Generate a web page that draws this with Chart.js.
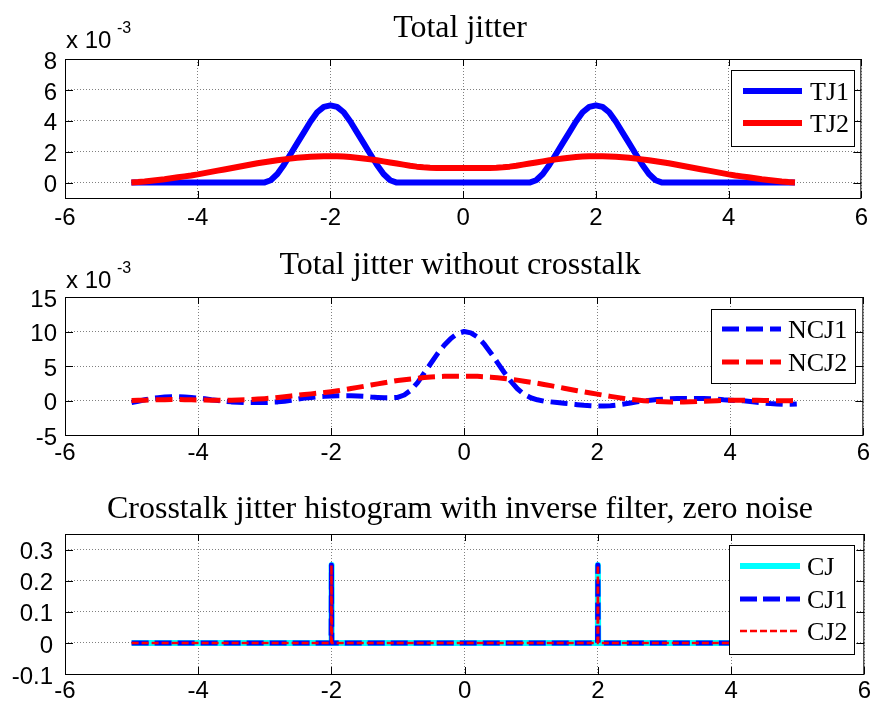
<!DOCTYPE html>
<html>
<head>
<meta charset="utf-8">
<title>Jitter histograms</title>
<style>
  body { margin: 0; background: #fff; }
  canvas { position: absolute; left: 0; }
</style>
</head>
<body>
<canvas id="c1" width="874" height="240" style="top:0px"></canvas>
<canvas id="c2" width="874" height="240" style="top:240px"></canvas>
<canvas id="c3" width="874" height="228" style="top:480px"></canvas>
<script src="https://cdn.jsdelivr.net/npm/chart.js"></script>
<script>
// time axis shared by the first two panels
var xs = [-5.0,-4.9,-4.8,-4.7,-4.6,-4.5,-4.4,-4.3,-4.2,-4.1,
          -4.0,-3.9,-3.8,-3.7,-3.6,-3.5,-3.4,-3.3,-3.2,-3.1,
          -3.0,-2.9,-2.8,-2.7,-2.6,-2.5,-2.4,-2.3,-2.2,-2.1,
          -2.0,-1.9,-1.8,-1.7,-1.6,-1.5,-1.4,-1.3,-1.2,-1.1,
          -1.0,-0.9,-0.8,-0.7,-0.6,-0.5,-0.4,-0.3,-0.2,-0.1,
          0.0,
          0.1,0.2,0.3,0.4,0.5,0.6,0.7,0.8,0.9,1.0,
          1.1,1.2,1.3,1.4,1.5,1.6,1.7,1.8,1.9,2.0,
          2.1,2.2,2.3,2.4,2.5,2.6,2.7,2.8,2.9,3.0,
          3.1,3.2,3.3,3.4,3.5,3.6,3.7,3.8,3.9,4.0,
          4.1,4.2,4.3,4.4,4.5,4.6,4.7,4.8,4.9,5.0];

// panel 1, values x 10^-3
var tj1 = [0,0,0,0,0,0,0,0,0,0,
           0,0,0,0,0,0,0,0,0,0,
           0,0.15,0.55,1.15,1.85,2.55,3.25,3.95,4.55,4.9,
           5.0,4.9,4.55,3.95,3.25,2.55,1.85,1.15,0.55,0.15,
           0,0,0,0,0,0,0,0,0,0,
           0,
           0,0,0,0,0,0,0,0,0,0,
           0.15,0.55,1.15,1.85,2.55,3.25,3.95,4.55,4.9,5.0,
           4.9,4.55,3.95,3.25,2.55,1.85,1.15,0.55,0.15,0,
           0,0,0,0,0,0,0,0,0,0,
           0,0,0,0,0,0,0,0,0,0];
var tj2 = [0,0.03,0.07,0.12,0.17,0.22,0.28,0.34,0.4,0.46,
           0.53,0.61,0.69,0.77,0.85,0.93,1.01,1.09,1.17,1.25,
           1.32,1.38,1.44,1.5,1.55,1.6,1.64,1.67,1.69,1.7,
           1.7,1.7,1.68,1.65,1.61,1.56,1.5,1.44,1.37,1.3,
           1.23,1.16,1.09,1.03,0.99,0.96,0.95,0.95,0.95,0.95,
           0.95,
           0.95,0.95,0.95,0.95,0.96,0.99,1.03,1.09,1.16,1.23,
           1.3,1.37,1.44,1.5,1.56,1.61,1.65,1.68,1.7,1.7,
           1.7,1.69,1.67,1.64,1.6,1.55,1.5,1.44,1.38,1.32,
           1.25,1.17,1.09,1.01,0.93,0.85,0.77,0.69,0.61,0.53,
           0.46,0.4,0.34,0.28,0.22,0.17,0.12,0.07,0.03,0];

// panel 2, values x 10^-3
var ncj1 = [-0.3,-0.1,0.1,0.3,0.4,0.5,0.55,0.55,0.5,0.45,
            0.35,0.25,0.1,0.0,-0.1,-0.2,-0.25,-0.3,-0.3,-0.3,
            -0.3,-0.25,-0.2,-0.1,0.05,0.2,0.35,0.45,0.55,0.6,
            0.65,0.7,0.7,0.7,0.65,0.6,0.5,0.45,0.4,0.4,
            0.45,0.8,1.5,2.6,4.0,5.4,6.8,8.0,9.0,9.7,
            10.0,
            9.8,9.2,8.2,6.9,5.5,4.1,2.8,1.7,0.9,0.4,
            0.1,-0.1,-0.2,-0.3,-0.4,-0.5,-0.6,-0.7,-0.75,-0.8,
            -0.8,-0.75,-0.65,-0.5,-0.35,-0.2,-0.05,0.05,0.15,0.2,
            0.25,0.3,0.3,0.3,0.3,0.3,0.25,0.2,0.1,0.05,
            0.0,-0.05,-0.15,-0.25,-0.35,-0.45,-0.5,-0.55,-0.55,-0.5];
var ncj2 = [0,0.02,0.05,0.08,0.1,0.12,0.13,0.13,0.12,0.1,
            0.08,0.06,0.05,0.04,0.04,0.05,0.07,0.1,0.14,0.2,
            0.27,0.35,0.45,0.55,0.66,0.76,0.86,0.96,1.06,1.16,
            1.28,1.42,1.57,1.73,1.9,2.07,2.24,2.41,2.58,2.74,
            2.9,3.02,3.13,3.23,3.32,3.4,3.45,3.5,3.52,3.53,
            3.53,
            3.52,3.5,3.45,3.38,3.3,3.2,3.08,2.95,2.8,2.65,
            2.5,2.33,2.15,1.97,1.78,1.6,1.42,1.25,1.08,0.92,
            0.76,0.6,0.45,0.3,0.17,0.06,-0.03,-0.1,-0.15,-0.18,
            -0.2,-0.2,-0.2,-0.18,-0.15,-0.1,-0.06,-0.02,0.01,0.03,
            0.04,0.04,0.03,0.02,0,-0.02,-0.03,-0.03,-0.02,0];

// panel 3
var xs3 = [-5, -2.005, -2, -1.995, 1.995, 2, 2.005, 5];
var cj  = [0, 0, 0.25, 0, 0, 0.25, 0, 0];
var cj1 = [0, 0, 0.25, 0, 0, 0.25, 0, 0];
var cj2 = [0, 0, 0.25, 0, 0, 0.25, 0, 0];

var titles = ["Total jitter", "Total jitter without crosstalk",
              "Crosstalk jitter histogram with inverse filter, zero noise"];

Chart.defaults.font.family = "'Liberation Sans', Arial, sans-serif";
Chart.defaults.color = '#000';

function series(xv, yv) {
    return xv.map(function (x, i) { return { x: x, y: yv[i] }; });
}

// box, inward ticks, legend and titles in the MATLAB look
var matlabAxes = {
    id: 'matlabAxes',
    afterDatasetsDraw: function (chart, args, opts) {
        var ctx = chart.ctx, a = chart.chartArea;
        var sx = chart.scales.x, sy = chart.scales.y;
        ctx.save();
        ctx.strokeStyle = '#000';
        ctx.lineWidth = 1;
        ctx.beginPath();
        sx.ticks.forEach(function (t) {
            var p = Math.round(sx.getPixelForValue(t.value)) + 0.5;
            ctx.moveTo(p, a.top); ctx.lineTo(p, a.top + 7);
            ctx.moveTo(p, a.bottom); ctx.lineTo(p, a.bottom - 7);
        });
        sy.ticks.forEach(function (t) {
            var p = Math.round(sy.getPixelForValue(t.value)) + 0.5;
            ctx.moveTo(a.left, p); ctx.lineTo(a.left + 8, p);
            ctx.moveTo(a.right, p); ctx.lineTo(a.right - 8, p);
        });
        ctx.stroke();
        ctx.strokeRect(a.left + 0.5, a.top + 0.5, a.right - a.left - 1, a.bottom - a.top);

        // legend
        var lg = opts.legend;
        ctx.fillStyle = '#fff';
        ctx.fillRect(lg.box[0], lg.box[1], lg.box[2] - lg.box[0], lg.box[3] - lg.box[1]);
        ctx.strokeRect(lg.box[0] + 0.5, lg.box[1] + 0.5, lg.box[2] - lg.box[0], lg.box[3] - lg.box[1]);
        chart.data.datasets.forEach(function (ds, i) {
            var y = lg.rows[i];
            ctx.save();
            ctx.strokeStyle = ds.borderColor;
            ctx.lineWidth = ds.borderWidth;
            ctx.setLineDash(ds.borderDash || []);
            ctx.beginPath();
            ctx.moveTo(lg.x0, y); ctx.lineTo(lg.x1, y);
            ctx.stroke();
            ctx.restore();
            ctx.fillStyle = '#000';
            ctx.font = "26px 'Liberation Serif', 'Times New Roman', serif";
            ctx.textAlign = 'left';
            ctx.textBaseline = 'alphabetic';
            ctx.fillText(ds.label, lg.tx, y + 9);
        });

        // title and exponent
        ctx.fillStyle = '#000';
        ctx.font = "32px 'Liberation Serif', 'Times New Roman', serif";
        ctx.textAlign = 'center';
        ctx.textBaseline = 'alphabetic';
        ctx.fillText(opts.title, 460, opts.titleY);
        if (opts.expo) {
            ctx.textAlign = 'left';
            ctx.font = "24px 'Liberation Sans', Arial, sans-serif";
            ctx.fillText('x 10', 66, 48);
            ctx.font = "16px 'Liberation Sans', Arial, sans-serif";
            ctx.fillText('-3', 117, 33);
        }
        ctx.restore();
    }
};

function buildChart(id, o) {
    return new Chart(document.getElementById(id), {
        type: 'line',
        data: { datasets: o.datasets },
        options: {
            responsive: false,
            animation: false,
            devicePixelRatio: 1,
            layout: { padding: { left: 0, right: 9, top: o.top, bottom: 0 } },
            elements: {
                point: { radius: 0 },
                line: { tension: 0, borderJoinStyle: 'round', fill: false }
            },
            plugins: {
                legend: { display: false },
                tooltip: { enabled: false },
                matlabAxes: { title: o.title, titleY: o.titleY, expo: o.expo, legend: o.legend }
            },
            scales: {
                x: {
                    type: 'linear', min: -6, max: 6,
                    ticks: {
                        stepSize: 2, font: { size: 24 }, padding: o.xpad,
                        maxRotation: 0, autoSkip: false,
                        callback: function (v) { return String(+v.toFixed(3)); }
                    },
                    grid: { color: '#808080', drawTicks: false },
                    border: { display: false, dash: [1, 2] },
                    afterFit: function (s) { s.height = o.xh; }
                },
                y: {
                    min: o.ymin, max: o.ymax,
                    ticks: {
                        stepSize: o.ystep, includeBounds: false, font: { size: 24 },
                        padding: o.ypad, labelOffset: 3,
                        callback: function (v) { return String(+v.toFixed(3)); }
                    },
                    grid: { color: '#808080', drawTicks: false },
                    border: { display: false, dash: [1, 2] },
                    afterFit: function (s) { s.width = 65; }
                }
            }
        },
        plugins: [matlabAxes]
    });
}

buildChart('c1', {
    top: 59, xh: 42, xpad: 6, ymin: -1, ymax: 8, ystep: 2, ypad: 8,
    title: titles[0], titleY: 37, expo: true,
    legend: { box: [731, 70, 854, 146], rows: [91, 123], x0: 743, x1: 802, tx: 810 },
    datasets: [
        { label: 'TJ1', data: series(xs, tj1), borderColor: '#0000ff', borderWidth: 6, order: 2 },
        { label: 'TJ2', data: series(xs, tj2), borderColor: '#ff0000', borderWidth: 6, order: 1 }
    ]
});

buildChart('c2', {
    top: 57, xh: 45, xpad: 4, ymin: -5, ymax: 15, ystep: 5, ypad: 8,
    title: titles[1], titleY: 34, expo: true,
    legend: { box: [711, 69, 855, 143], rows: [89, 122], x0: 722, x1: 781, tx: 788 },
    datasets: [
        { label: 'NCJ1', data: series(xs, ncj1), borderColor: '#0000ff', borderWidth: 5, borderDash: [17, 7], order: 2 },
        { label: 'NCJ2', data: series(xs, ncj2), borderColor: '#ff0000', borderWidth: 5, borderDash: [17, 7], order: 1 }
    ]
});

buildChart('c3', {
    top: 54, xh: 34, xpad: 3, ymin: -0.1, ymax: 0.35, ystep: 0.1, ypad: 12,
    title: titles[2], titleY: 38, expo: false,
    legend: { box: [729, 65, 854, 174], rows: [86, 119, 151], x0: 740, x1: 800, tx: 807 },
    datasets: [
        { label: 'CJ', data: series(xs3, cj), borderColor: '#00ffff', borderWidth: 6, order: 3 },
        { label: 'CJ1', data: series(xs3, cj1), borderColor: '#0000ff', borderWidth: 5, borderDash: [17, 6], order: 2 },
        { label: 'CJ2', data: series(xs3, cj2), borderColor: '#ff0000', borderWidth: 2.5, borderDash: [7, 3], order: 1 }
    ]
});
</script>
</body>
</html>
